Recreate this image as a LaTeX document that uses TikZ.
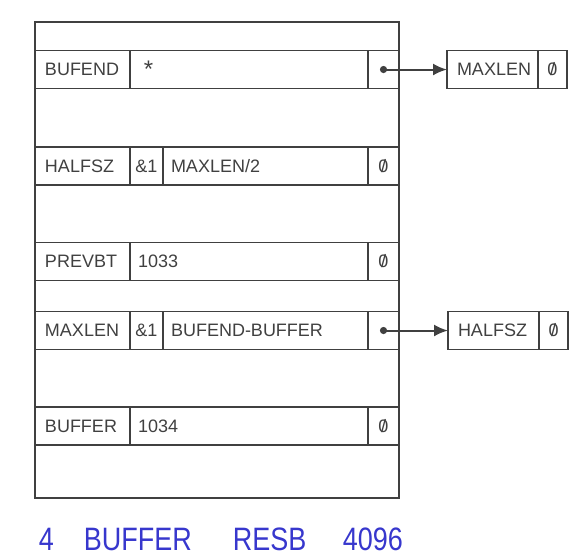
\documentclass[tikz,border=0pt]{standalone}
\usepackage{fontspec}
\setmainfont{Liberation Sans}
\usepackage{graphicx}
\usetikzlibrary{arrows.meta,positioning}
\definecolor{ink}{HTML}{404040}
\definecolor{capblue}{RGB}{55,55,205}
% slashed zero as on the printout
\newcommand{\slzero}{\ooalign{0\cr\hidewidth/\hidewidth\cr}}

\begin{document}
\begin{tikzpicture}[x=0.5pt,y=-0.5pt,>={Latex[length=7pt,width=6pt]},line width=0.8pt,
  cell/.style={draw=ink,text=ink,outer sep=0pt,inner xsep=4pt,inner ysep=0pt,
    minimum height=19pt,align=left,font=\fontsize{9}{10}\selectfont},
  namecell/.style={cell,inner xsep=5pt,text width=37.5pt},
  ampcell/.style={cell,inner xsep=0pt,text width=16.5pt,align=center},
  valcell/.style={cell,text width=#1},
  ptrcell/.style={cell,inner xsep=0pt,text width=15.5pt,align=center},
  capword/.style={anchor=base west,text=capblue,inner sep=0pt,font=\fontsize{13.5}{15}\selectfont}]
\useasboundingbox (0,0) rectangle (584,554);
% outer frame of the data area
\node[draw=ink,outer sep=0pt,inner sep=0pt,minimum width=182pt,minimum height=238pt,
  anchor=north west] (frame) at (35,22) {};
% BUFEND row
\node[namecell,anchor=west] (bufend) at (35,69.5) {BUFEND};
\node[valcell=111pt,right=0pt of bufend] (bufendval) {\ \raisebox{-0.2ex}{\large *}};
\node[ptrcell,right=0pt of bufendval] (bufendptr) {};
% HALFSZ row
\node[namecell,anchor=west] (halfsz) at (35,166) {HALFSZ};
\node[ampcell,right=0pt of halfsz] (halfszamp) {\&1};
\node[valcell=94.5pt,right=0pt of halfszamp] (halfszval) {MAXLEN/2};
\node[ptrcell,right=0pt of halfszval] (halfszptr) {\slzero};
% PREVBT row
\node[namecell,anchor=west] (prevbt) at (35,261.5) {PREVBT};
\node[valcell=111pt,right=0pt of prevbt] (prevbtval) {1033};
\node[ptrcell,right=0pt of prevbtval] (prevbtptr) {\slzero};
% MAXLEN row
\node[namecell,anchor=west] (maxlen) at (35,330.5) {MAXLEN};
\node[ampcell,right=0pt of maxlen] (maxlenamp) {\&1};
\node[valcell=94.5pt,right=0pt of maxlenamp] (maxlenval) {BUFEND-BUFFER};
\node[ptrcell,right=0pt of maxlenval] (maxlenptr) {};
% BUFFER row
\node[namecell,anchor=west] (buffer) at (35,426) {BUFFER};
\node[valcell=111pt,right=0pt of buffer] (bufferval) {1034};
\node[ptrcell,right=0pt of bufferval] (bufferptr) {\slzero};
% forward reference entries
\node[namecell,text width=35.5pt,anchor=west] (maxlenref) at (447,69.5) {MAXLEN};
\node[ptrcell,text width=14.5pt,right=0pt of maxlenref] (maxlenrefptr) {\slzero};
\node[namecell,text width=35.5pt,anchor=west] (halfszref) at (448,330.5) {HALFSZ};
\node[ptrcell,text width=14.5pt,right=0pt of halfszref] (halfszrefptr) {\slzero};
% links
\fill[ink] (bufendptr.center) circle (3.6);
\draw[->,ink,line width=1pt] (bufendptr.center) -- (maxlenref.west);
\fill[ink] (maxlenptr.center) circle (3.6);
\draw[->,ink,line width=1pt] (maxlenptr.center) -- (halfszref.west);
% source line
\node[capword] (capline) at (38,550) {\scalebox{1}[1.2]{4}};
\node[capword] (caplabel) at (83,550) {\scalebox{1}[1.2]{BUFFER}};
\node[capword] (capop) at (232,550) {\scalebox{1}[1.2]{RESB}};
\node[capword] (capsize) at (342,550) {\scalebox{1}[1.2]{4096}};
\end{tikzpicture}
\end{document}
